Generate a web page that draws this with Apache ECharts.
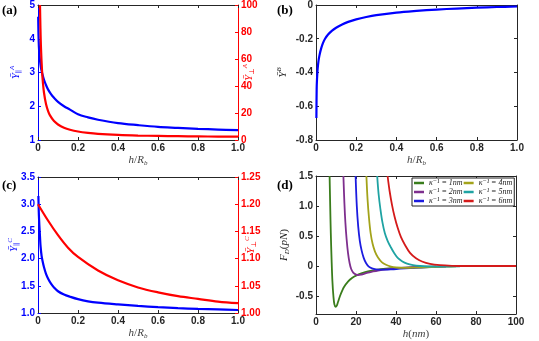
<!DOCTYPE html>
<html>
<head>
<meta charset="utf-8">
<script src="https://cdn.jsdelivr.net/npm/echarts@6/dist/echarts.min.js"></script>
<style>
  html, body { margin: 0; padding: 0; background: #fff; }
  #main { width: 539px; height: 341px; }
</style>
</head>
<body>
<div id="main"></div>
<script>
// ---- data ----
// (a) Y_par^A (left axis) and Y_perp^A (right axis) vs h/R_b
var aParX  = [0.001, 0.003, 0.006, 0.01, 0.015, 0.02, 0.03, 0.04, 0.05, 0.065, 0.08, 0.1, 0.13, 0.16, 0.2, 0.25, 0.3, 0.4, 0.5, 0.6, 0.7, 0.8, 0.9, 1.0];
var aParY  = [4.65, 4.0, 3.6, 3.35, 3.13, 3.0, 2.78, 2.63, 2.5, 2.36, 2.25, 2.13, 2.0, 1.9, 1.76, 1.67, 1.6, 1.5, 1.44, 1.39, 1.36, 1.33, 1.31, 1.29];
var aPerpX = [0.01, 0.012, 0.015, 0.02, 0.025, 0.03, 0.04, 0.05, 0.06, 0.08, 0.1, 0.13, 0.16, 0.2, 0.25, 0.3, 0.4, 0.5, 0.6, 0.7, 0.8, 0.9, 1.0];
var aPerpY = [100, 84.5, 68, 51.8, 41.7, 35, 26.6, 21.6, 18.2, 14, 11.5, 9.1, 7.6, 6.3, 5.3, 4.6, 3.8, 3.3, 3.0, 2.8, 2.65, 2.55, 2.45];

// (b) Y^B vs h/R_b
var bX = [0.002, 0.0033, 0.005, 0.008, 0.012, 0.017, 0.025, 0.035, 0.045, 0.06, 0.08, 0.1, 0.13, 0.16, 0.2, 0.25, 0.3, 0.4, 0.5, 0.6, 0.7, 0.8, 0.9, 1.0];
var bY = [-0.67, -0.5, -0.44, -0.38, -0.335, -0.3, -0.26, -0.225, -0.2, -0.175, -0.152, -0.135, -0.115, -0.1, -0.085, -0.071, -0.06, -0.045, -0.035, -0.027, -0.021, -0.016, -0.012, -0.009];

// (c) Y_par^C (left axis) and Y_perp^C (right axis)
var cParX  = [0.002, 0.004, 0.007, 0.01, 0.013, 0.018, 0.023, 0.03, 0.04, 0.052, 0.065, 0.08, 0.1, 0.13, 0.16, 0.2, 0.25, 0.3, 0.4, 0.5, 0.6, 0.7, 0.8, 0.9, 1.0];
var cParY  = [3.15, 2.85, 2.6, 2.4, 2.22, 2.05, 1.95, 1.84, 1.72, 1.62, 1.54, 1.47, 1.4, 1.34, 1.3, 1.255, 1.215, 1.19, 1.158, 1.13, 1.108, 1.09, 1.075, 1.065, 1.055];
var cPerpX = [0, 0.05, 0.1, 0.15, 0.2, 0.3, 0.4, 0.5, 0.6, 0.7, 0.8, 0.9, 1.0];
var cPerpY = [1.2, 1.17, 1.143, 1.12, 1.103, 1.078, 1.06, 1.047, 1.038, 1.031, 1.026, 1.021, 1.018];

// (d) F_D(pN) vs h(nm) for kappa^-1 = 1..6 nm
var dNames = ['κ⁻¹ = 1nm', 'κ⁻¹ = 2nm', 'κ⁻¹ = 3nm', 'κ⁻¹ = 4nm', 'κ⁻¹ = 5nm', 'κ⁻¹ = 6nm'];
var dColors = ['#3a7d1c', '#7e2f8e', '#1c1ce0', '#a3a31a', '#1fa3a3', '#d41a1a'];
var d1X = [6.8, 7.1, 7.4, 7.8, 8.2, 8.7, 9.2, 9.8, 10.4, 11, 12, 13, 14, 16, 18, 20, 23, 26, 30, 35, 40, 50, 60];
var d1Y = [1.5, 1.0, 0.55, 0.1, -0.25, -0.5, -0.64, -0.68, -0.66, -0.6, -0.5, -0.42, -0.35, -0.26, -0.2, -0.16, -0.12, -0.09, -0.065, -0.045, -0.032, -0.018, -0.01];
var d2X = [13.7, 14.2, 14.7, 15.3, 16, 16.8, 17.6, 18.6, 19.8, 21, 22.5, 24, 26, 28, 31, 35, 40, 45, 50, 60];
var d2Y = [1.5, 1.05, 0.72, 0.45, 0.22, 0.05, -0.05, -0.11, -0.14, -0.15, -0.145, -0.13, -0.11, -0.095, -0.075, -0.055, -0.038, -0.027, -0.02, -0.01];
var d3X = [19.8, 20.4, 21.1, 21.9, 22.8, 23.8, 25, 26.4, 28, 30, 32.5, 35, 38, 42, 47, 53, 60, 65];
var d3Y = [1.5, 1.0, 0.66, 0.42, 0.26, 0.14, 0.05, -0.01, -0.04, -0.055, -0.06, -0.06, -0.055, -0.045, -0.035, -0.025, -0.015, -0.01];
var d4X = [25.2, 25.8, 26.5, 27.3, 28.3, 29.5, 31, 33, 35, 37.5, 40, 43, 47, 52, 58, 65, 70];
var d4Y = [1.5, 1.1, 0.8, 0.55, 0.37, 0.24, 0.14, 0.06, 0.02, -0.01, -0.025, -0.032, -0.03, -0.025, -0.017, -0.01, -0.007];
var d5X = [30.6, 31.3, 32.2, 33.2, 34.4, 35.8, 37.3, 39, 41, 43, 45.5, 48.5, 52, 56, 62, 72];
var d5Y = [1.5, 1.2, 0.95, 0.73, 0.55, 0.42, 0.32, 0.22, 0.13, 0.08, 0.04, 0.015, 0, -0.008, -0.008, -0.004];
var d6X = [35.8, 36.8, 38, 39.3, 40.8, 42.5, 44.5, 47, 50, 53, 57, 62, 68, 75, 85, 100];
var d6Y = [1.5, 1.25, 1.02, 0.82, 0.64, 0.48, 0.35, 0.22, 0.13, 0.075, 0.035, 0.013, 0.003, 0, 0, 0];

// tick values for (d) y axis (axis runs -0.8 .. 1.5)
var dYTicks = [-0.5, 0, 0.5, 1.0, 1.5];

function zip(xs, ys) { return xs.map(function (x, i) { return [x, ys[i]]; }); }

var INK = '#262626';
var BLUE = '#0000ff';
var RED = '#ff0000';
var tickFont = 'Liberation Sans, Arial, sans-serif';
var mathFont = 'Liberation Serif, DejaVu Serif, serif';

function mathRich(color) {
  return {
    i: { fontFamily: mathFont, fontStyle: 'italic', fontSize: 11, color: color, lineHeight: 14 },
    r: { fontFamily: mathFont, fontSize: 11, color: color, lineHeight: 14 },
    sub: { fontFamily: mathFont, fontStyle: 'italic', fontSize: 7, color: color, lineHeight: 14, verticalAlign: 'bottom' },
    sup: { fontFamily: mathFont, fontStyle: 'italic', fontSize: 7, color: color, lineHeight: 14, verticalAlign: 'top' }
  };
}

function fmtFrac(v) { return v === 0 ? '0' : v.toFixed(1); }

function xAxisFor(g, pos, max, interval, fmt, name) {
  var ax = {
    type: 'value', gridIndex: g, position: pos, min: 0, max: max, interval: interval,
    axisLine: { show: true, onZero: false, lineStyle: { color: INK, width: 1 } },
    axisTick: { show: true, inside: true, length: 3, lineStyle: { color: INK } },
    axisLabel: { show: pos === 'bottom', color: INK, fontFamily: tickFont, fontWeight: 'bold', fontSize: 10, margin: 3, formatter: fmt },
    splitLine: { show: false }
  };
  if (pos === 'bottom') {
    ax.name = name;
    ax.nameLocation = 'middle';
    ax.nameGap = 13;
    ax.nameMoveOverlap = false;
    ax.nameTextStyle = { color: '#404040', rich: mathRich('#404040') };
  }
  return ax;
}

function yAxisFor(g, pos, min, max, interval, color, fmt, name, gap, showLabel) {
  return {
    type: 'value', gridIndex: g, position: pos, min: min, max: max, interval: interval,
    axisLine: { show: true, onZero: false, lineStyle: { color: color, width: 1 } },
    axisTick: { show: true, inside: true, length: 3, lineStyle: { color: color } },
    axisLabel: { show: showLabel, color: color, fontFamily: tickFont, fontWeight: 'bold', fontSize: 10, margin: 3, formatter: fmt },
    splitLine: { show: false },
    name: name || '', nameLocation: 'middle', nameGap: gap || 15, nameMoveOverlap: false,
    nameTextStyle: { color: color, rich: mathRich(color) }
  };
}

var hName = '{i|h}{r|/}{i|R}{sub|b}';

var chartDom = document.getElementById('main');
var myChart = echarts.init(chartDom);

var panelStyle = { fontFamily: mathFont, fontWeight: 'bold', fontSize: 13, color: '#000' };

function lineSeries(name, xi, yi, data, color, width) {
  return {
    name: name, type: 'line', xAxisIndex: xi, yAxisIndex: yi, data: data,
    showSymbol: false, symbol: 'none', smooth: 0.35,
    lineStyle: { color: color, width: width }, itemStyle: { color: color },
    clip: true
  };
}

var dXs = [d1X, d2X, d3X, d4X, d5X, d6X];
var dYs = [d1Y, d2Y, d3Y, d4Y, d5Y, d6Y];
var dSeries = dNames.map(function (n, i) {
  return lineSeries(n, 3, 3, zip(dXs[i], dYs[i]), dColors[i], 1.8);
});

var option = {
  animation: false,
  title: [
    { text: '(a)', left: 2, top: 4, padding: 0, textStyle: panelStyle },
    { text: '(b)', left: 277, top: 4, padding: 0, textStyle: panelStyle },
    { text: '(c)', left: 2, top: 179, padding: 0, textStyle: panelStyle },
    { text: '(d)', left: 277, top: 179, padding: 0, textStyle: panelStyle }
  ],
  grid: [
    { left: 38, top: 5, width: 200, height: 135 },
    { left: 316, top: 4, width: 201, height: 136 },
    { left: 38, top: 177, width: 200, height: 137 },
    { left: 316, top: 176, width: 200, height: 138 }
  ],
  legend: {
    data: dNames, left: 412, top: 178, orient: 'vertical', height: 33,
    itemGap: 1, itemWidth: 10, itemHeight: 2.5, icon: 'rect',
    padding: [1, 2], borderColor: '#222', borderWidth: 1, backgroundColor: '#fff',
    textStyle: { fontFamily: mathFont, fontStyle: 'italic', fontSize: 8, color: '#222' }
  },
  xAxis: [
    xAxisFor(0, 'bottom', 1, 0.2, fmtFrac, hName),
    xAxisFor(1, 'bottom', 1, 0.2, fmtFrac, hName),
    xAxisFor(2, 'bottom', 1, 0.2, fmtFrac, hName),
    xAxisFor(3, 'bottom', 100, 20, null, '{i|h}{r|(}{i|nm}{r|)}'),
    xAxisFor(0, 'top', 1, 0.2, null),
    xAxisFor(1, 'top', 1, 0.2, null),
    xAxisFor(2, 'top', 1, 0.2, null),
    xAxisFor(3, 'top', 100, 20, null)
  ],
  yAxis: [
    yAxisFor(0, 'left', 1, 5, 1, BLUE, null, '{i|Ȳ}{sub|∥}{sup|A}', 15, true),
    yAxisFor(1, 'left', -0.8, 0, 0.2, INK, fmtFrac, '{i|Ȳ}{sup|B}', 26, true),
    yAxisFor(2, 'left', 1, 3.5, 0.5, BLUE, function (v) { return v.toFixed(1); }, '{i|Ȳ}{sub|∥}{sup|C}', 17, true),
    (function () {
      var ax = yAxisFor(3, 'left', -0.8, 1.5, 0.1, INK, fmtFrac, '{i|F}{sub|D}{r|(}{i|pN}{r|)}', 25, true);
      ax.axisLabel.customValues = dYTicks;
      ax.axisTick.customValues = dYTicks;
      return ax;
    })(),
    yAxisFor(0, 'right', 0, 100, 20, RED, null, '{i|Ȳ}{sub|⊥}{sup|A}', 4, true),
    yAxisFor(1, 'right', -0.8, 0, 0.2, INK, null, '', 10, false),
    yAxisFor(2, 'right', 1, 1.25, 0.05, RED, function (v) { return v.toFixed(2); }, '{i|Ȳ}{sub|⊥}{sup|C}', 6, true),
    (function () {
      var ax = yAxisFor(3, 'right', -0.8, 1.5, 0.1, INK, null, '', 10, false);
      ax.axisTick.customValues = dYTicks;
      return ax;
    })()
  ],
  series: [
    lineSeries('aPar', 0, 0, zip(aParX, aParY), BLUE, 2.2),
    lineSeries('aPerp', 0, 4, zip(aPerpX, aPerpY), RED, 2.2),
    lineSeries('b', 1, 1, zip(bX, bY), BLUE, 2.2),
    lineSeries('cPar', 2, 2, zip(cParX, cParY), BLUE, 2.2),
    lineSeries('cPerp', 2, 6, zip(cPerpX, cPerpY), RED, 2.2)
  ].concat(dSeries)
};

myChart.setOption(option);

window.addEventListener('resize', function () { myChart.resize(); });
</script>
</body>
</html>
